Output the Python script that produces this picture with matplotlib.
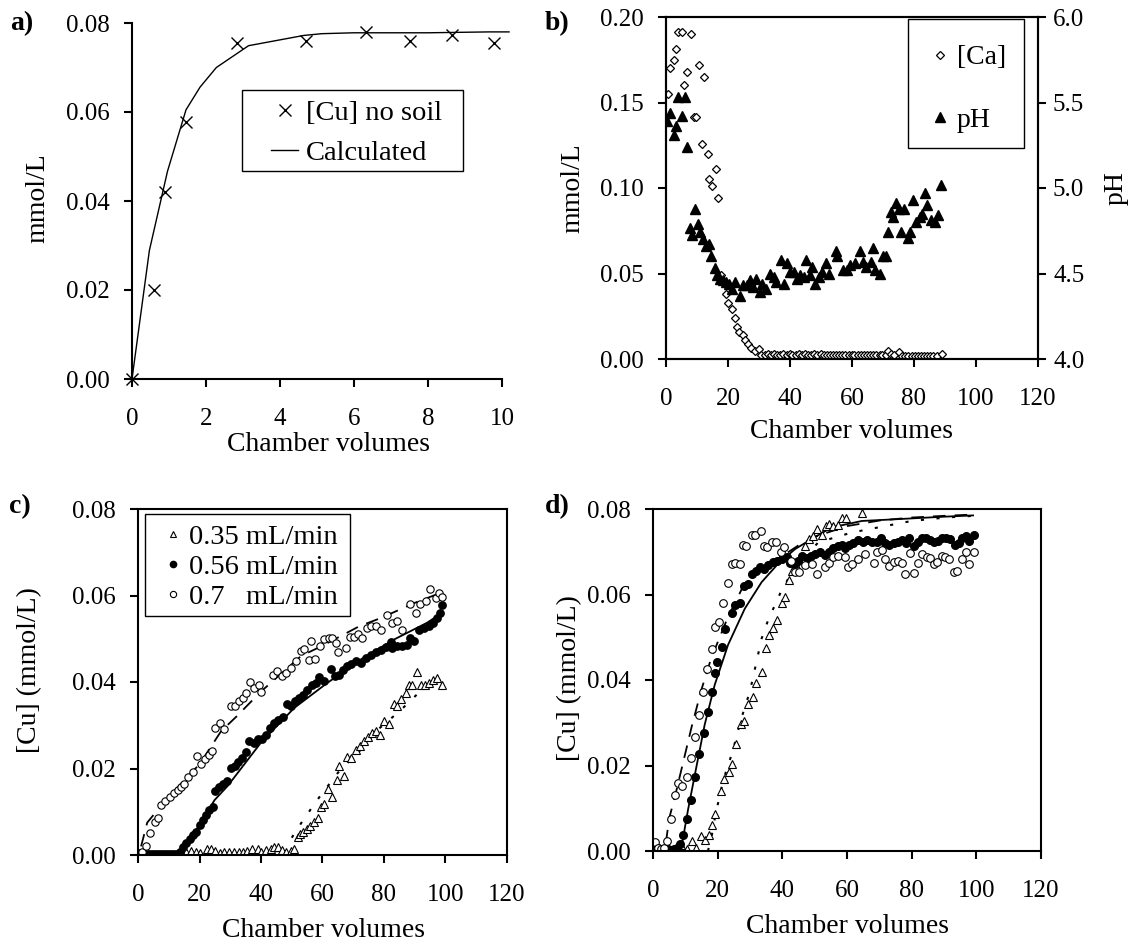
import matplotlib
matplotlib.use("Agg")
import matplotlib.pyplot as plt
from matplotlib.lines import Line2D
from matplotlib.patches import Rectangle
from matplotlib.ticker import FormatStrFormatter

plt.rcParams['font.family'] = ['Liberation Serif', 'DejaVu Serif']
plt.rcParams['font.size'] = 18
plt.rcParams['axes.linewidth'] = 1.5

# ---------------- Panel a ----------------
a_x = [0.0, 0.59, 0.89, 1.47, 2.85, 4.69, 6.33, 7.51, 8.66, 9.78]
a_cu = [0.0, 0.0201, 0.0420, 0.0578, 0.0755, 0.0759, 0.0779, 0.0759, 0.0772, 0.0755]
a_calc_x = [0.0, 0.47, 0.96, 1.46, 1.84, 2.28, 3.15, 4.64, 5.13, 6.0, 8.0, 9.66, 10.19]
a_calc_y = [0.0, 0.0289, 0.0467, 0.0605, 0.0656, 0.0700, 0.0749, 0.0772, 0.0776, 0.0778, 0.0778, 0.0780, 0.0780]

# ---------------- Panel b ----------------
b_ca_x = [0.6, 1.4, 2.6, 3.3, 3.8, 5.1, 5.9, 6.9, 8.0, 9.0, 9.6, 10.6, 12.3, 11.5, 13.4, 14.0,
          14.8, 16.2, 16.9, 17.6, 19.2, 20.1, 21.2, 22.1, 22.8, 23.7, 24.7, 25.5, 26.6, 27.5,
          28.6, 30.1, 30.8, 31.8, 32.9, 33.8, 34.9, 35.8, 36.9, 37.8, 38.9, 39.9, 40.8, 41.9,
          42.8, 43.9, 44.9, 45.8, 46.9, 47.9, 48.8, 49.9, 50.9, 51.8, 52.9, 53.9, 54.8, 55.9,
          56.9, 57.8, 58.9, 59.9, 60.8, 61.9, 62.9, 63.8, 64.9, 65.9, 66.8, 67.9, 68.9, 69.8,
          70.9, 71.7, 72.6, 73.6, 75.2, 76.2, 77.2, 78.2, 79.3, 80.3, 81.2, 82.3, 83.2, 84.3,
          85.3, 86.2, 87.3, 89.1]
b_ca = [0.155, 0.170, 0.175, 0.181, 0.191, 0.191, 0.160, 0.168, 0.190, 0.1415, 0.1415, 0.172,
        0.165, 0.126, 0.120, 0.105, 0.101, 0.111, 0.094, 0.049, 0.038, 0.0326, 0.029, 0.0237,
        0.019, 0.016, 0.0138, 0.0109, 0.0085, 0.0065, 0.0045, 0.0057, 0.0026, 0.0026, 0.0028,
        0.0024, 0.0030, 0.0026, 0.0025, 0.0028, 0.0026, 0.0030, 0.0026, 0.0025, 0.0027, 0.0026,
        0.0028, 0.0025, 0.0026, 0.0028, 0.0025, 0.0027, 0.0026, 0.0026, 0.0024, 0.0022, 0.0023,
        0.0022, 0.0024, 0.0022, 0.0023, 0.0022, 0.0024, 0.0022, 0.0023, 0.0022, 0.0023, 0.0022,
        0.0024, 0.0022, 0.0023, 0.0022, 0.0024, 0.0045, 0.0030, 0.0022, 0.0042, 0.0018, 0.0016,
        0.0017, 0.0020, 0.0016, 0.0017, 0.0016, 0.0018, 0.0016, 0.0017, 0.0016, 0.0018, 0.0032]
b_ph_x = [0.4, 1.4, 2.6, 3.3, 3.9, 5.1, 6.0, 6.7, 7.9, 8.3, 9.3, 10.3, 11.0, 12.0, 13.0, 13.8,
          14.6, 15.7, 16.6, 17.4, 18.4, 19.2, 20.3, 21.3, 22.3, 23.9, 24.7, 26.0, 27.1, 28.0,
          29.0, 30.2, 31.1, 32.3, 33.4, 34.8, 35.4, 37.0, 38.1, 39.0, 39.9, 41.2, 42.3, 43.2,
          44.5, 45.2, 46.4, 47.1, 48.0, 49.3, 50.4, 51.5, 52.6, 54.7, 55.3, 57.2, 58.3, 59.4,
          60.9, 62.5, 63.6, 64.5, 66.1, 66.9, 67.5, 69.0, 69.9, 70.9, 71.5, 72.6, 73.1, 74.2,
          75.1, 75.8, 76.9, 78.0, 78.8, 79.8, 80.7, 81.8, 82.7, 83.4, 84.3, 85.6, 86.7, 87.8, 88.7]
b_ph = [5.39, 5.44, 5.31, 5.36, 5.53, 5.42, 5.53, 5.24, 4.765, 4.725, 4.875, 4.79, 4.745, 4.70,
        4.66, 4.675, 4.60, 4.53, 4.49, 4.47, 4.46, 4.45, 4.44, 4.41, 4.45, 4.37, 4.43, 4.43,
        4.46, 4.42, 4.47, 4.39, 4.44, 4.41, 4.50, 4.48, 4.45, 4.58, 4.44, 4.56, 4.51, 4.51,
        4.47, 4.49, 4.48, 4.58, 4.49, 4.54, 4.44, 4.48, 4.51, 4.56, 4.50, 4.63, 4.60, 4.52,
        4.52, 4.55, 4.56, 4.63, 4.57, 4.54, 4.57, 4.65, 4.52, 4.50, 4.60, 4.60, 4.745, 4.86,
        4.83, 4.91, 4.875, 4.745, 4.875, 4.71, 4.745, 4.93, 4.80, 4.83, 4.85, 4.97, 4.90,
        4.81, 4.80, 4.84, 5.02]

# ---------------- Panel c ----------------
c35_x = [14.1, 15.6, 17.2, 18.7, 20.0, 22.5, 23.9, 25.2, 26.6, 28.1, 29.7, 31.3, 32.9, 34.0,
         35.6, 37.1, 38.9, 40.0, 41.6, 43.2, 44.3, 45.4, 46.7, 48.1, 49.7, 50.8, 51.9, 52.8,
         53.8, 54.9, 56.0, 57.1, 58.4, 59.5, 60.5, 61.8, 63.2, 64.6, 65.4, 67.0, 68.1, 69.4,
         70.8, 72.2, 73.5, 74.8, 76.2, 77.3, 78.7, 80.0, 81.6, 83.2, 84.3, 85.6, 87.0, 88.1,
         89.2, 90.6, 91.9, 93.3, 94.6, 96.0, 97.3, 98.9]
c35 = [0.0008, 0.0008, 0.0010, 0.0008, 0.0004, 0.0013, 0.0013, 0.0010, 0.0004, 0.0008, 0.0008,
       0.0008, 0.0006, 0.0006, 0.0010, 0.0015, 0.0013, 0.0006, 0.0012, 0.0015, 0.0019, 0.0018,
       0.0012, 0.0006, 0.0009, 0.0015, 0.0041, 0.0048, 0.0054, 0.0059, 0.0068, 0.0077, 0.0085,
       0.0112, 0.0117, 0.0152, 0.0134, 0.0174, 0.0205, 0.0183, 0.0226, 0.0224, 0.0242, 0.0251,
       0.0263, 0.0273, 0.0282, 0.0286, 0.0278, 0.0309, 0.0303, 0.0350, 0.0345, 0.0361, 0.0375,
       0.0394, 0.0392, 0.0422, 0.0392, 0.0392, 0.0398, 0.0405, 0.0409, 0.0394]
c56_x = [0.5, 1.5, 2.5, 3.5, 4.5, 5.5, 6.5, 7.5, 8.5, 9.5, 10.5, 11.5, 12.5, 13.5, 14.6, 15.7,
         16.8, 17.8, 18.9, 20.0, 21.1, 22.2, 23.2, 24.3, 25.1, 26.2, 27.6, 28.9, 30.1, 31.4,
         32.4, 33.7, 35.1, 36.2, 37.6, 38.9, 40.3, 41.6, 42.9, 44.3, 45.6, 47.0, 48.6, 49.7,
         51.1, 52.4, 53.8, 55.1, 56.5, 57.8, 58.9, 60.5, 62.7, 64.0, 65.4, 66.8, 68.1, 69.4,
         70.8, 72.4, 74.1, 75.7, 77.3, 78.9, 80.5, 82.2, 82.7, 84.3, 86.0, 87.6, 88.6, 89.9,
         91.4, 93.0, 94.6, 96.0, 97.3, 98.2, 98.9]
c56 = [0.0003, 0.0002, 0.0002, 0.0002, 0.0002, 0.0002, 0.0002, 0.0002, 0.0002, 0.0002, 0.0002,
       0.0002, 0.0003, 0.0008, 0.0018, 0.0027, 0.0036, 0.0046, 0.0054, 0.0070, 0.0081, 0.0093,
       0.0103, 0.0112, 0.0147, 0.0158, 0.0164, 0.0170, 0.0201, 0.0206, 0.0214, 0.0224, 0.0239,
       0.0263, 0.0260, 0.0268, 0.0268, 0.0278, 0.0293, 0.0305, 0.0313, 0.0319, 0.0350, 0.0344,
       0.0355, 0.0363, 0.0371, 0.0382, 0.0392, 0.0398, 0.0412, 0.0402, 0.0429, 0.0415, 0.0417,
       0.0428, 0.0436, 0.0442, 0.0448, 0.0443, 0.0456, 0.0463, 0.0469, 0.0475, 0.0481, 0.0492,
       0.0479, 0.0484, 0.0484, 0.0486, 0.0502, 0.0494, 0.0521, 0.0525, 0.0530, 0.0537, 0.0548,
       0.0560, 0.0577]
c70_x = [0.4, 1.3, 2.7, 3.8, 5.4, 6.5, 7.6, 8.9, 10.3, 11.7, 13.0, 14.1, 15.1, 16.2, 18.0,
         19.2, 20.5, 21.8, 23.0, 24.0, 25.1, 26.8, 28.1, 30.3, 31.6, 33.0, 34.1, 35.1, 36.5,
         37.8, 39.2, 40.0, 43.8, 45.1, 46.7, 48.1, 49.7, 51.4, 53.0, 54.1, 55.7, 56.2, 57.5,
         59.2, 60.5, 62.2, 63.2, 64.3, 65.1, 67.6, 69.0, 70.2, 71.5, 73.0, 74.4, 75.7, 77.3,
         78.9, 81.1, 82.7, 84.3, 86.0, 88.6, 90.3, 91.7, 93.5, 95.1, 96.8, 97.8, 98.9]
c70 = [0.0004, 0.0006, 0.0021, 0.0052, 0.0077, 0.0086, 0.0116, 0.0126, 0.0135, 0.0143, 0.0151,
       0.0157, 0.0164, 0.0180, 0.0193, 0.0228, 0.0211, 0.0222, 0.0232, 0.0241, 0.0293, 0.0305,
       0.0291, 0.0344, 0.0344, 0.0355, 0.0363, 0.0375, 0.0399, 0.0386, 0.0394, 0.0378, 0.0417,
       0.0426, 0.0413, 0.0421, 0.0432, 0.0448, 0.0471, 0.0476, 0.0452, 0.0494, 0.0453, 0.0483,
       0.0500, 0.0502, 0.0502, 0.0490, 0.0469, 0.0479, 0.0504, 0.0504, 0.0510, 0.0502, 0.0525,
       0.0530, 0.0529, 0.0521, 0.0556, 0.0537, 0.0541, 0.0521, 0.0581, 0.0560, 0.0581, 0.0587,
       0.0615, 0.0595, 0.0606, 0.0597]
c35_model_x = [50.0, 53.0, 56.0, 59.0, 65.0, 72.0, 78.0, 85.0, 92.0, 98.4]
c35_model = [0.0040, 0.0073, 0.0104, 0.0134, 0.0190, 0.0240, 0.0290, 0.0332, 0.0380, 0.0405]
c56_model_x = [0.0, 13.0, 14.0, 18.4, 24.9, 29.2, 40.0, 50.8, 61.6, 72.4, 83.2, 94.0, 98.9]
c56_model = [0.0, 0.0, 0.0005, 0.0052, 0.0127, 0.0160, 0.0260, 0.0340, 0.0398, 0.0452, 0.0498, 0.0537, 0.0560]
c70_model_x = [1.0, 3.0, 10.0, 20.0, 27.0, 32.0, 40.0, 53.0, 60.0, 72.0, 79.0, 90.0, 98.0]
c70_model = [0.0020, 0.0075, 0.0135, 0.0210, 0.0286, 0.0320, 0.0378, 0.0460, 0.0484, 0.0529, 0.0548, 0.0583, 0.0605]

# ---------------- Panel d ----------------
d35_x = [1.0, 3.0, 5.0, 7.0, 8.8, 10.5, 12.1, 13.4, 14.8, 16.0, 17.4, 18.4, 19.3, 21.0, 22.0,
         23.5, 24.5, 25.6, 27.2, 28.2, 29.4, 30.8, 32.0, 33.6, 34.8, 35.9, 37.2, 38.4, 39.8,
         40.8, 42.0, 42.9, 44.4, 46.0, 47.0, 48.3, 49.6, 50.8, 52.2, 53.4, 54.4, 55.8, 57.1,
         58.4, 59.6, 64.6]
d35 = [0.0005, 0.0003, 0.0002, 0.0006, 0.0014, 0.0004, 0.0024, 0.0006, 0.0035, 0.0026, 0.0037,
       0.0060, 0.0086, 0.0140, 0.0169, 0.0184, 0.0203, 0.0250, 0.0296, 0.0304, 0.0345, 0.0360,
       0.0393, 0.0418, 0.0476, 0.0505, 0.0521, 0.0540, 0.0579, 0.0594, 0.0633, 0.0656, 0.0664,
       0.0682, 0.0714, 0.0730, 0.0737, 0.0754, 0.0739, 0.0761, 0.0764, 0.0761, 0.0762, 0.0778,
       0.0780, 0.0791]
d56_x = [0.5, 1.5, 2.5, 3.5, 4.5, 5.5, 6.5, 7.5, 8.4, 9.3, 10.6, 11.9, 13.1, 14.2, 15.8, 17.0,
         18.1, 19.1, 19.9, 21.2, 22.4, 24.3, 25.5, 26.9, 28.2, 29.4, 30.5, 32.0, 33.1, 34.3,
         35.6, 37.2, 38.5, 39.8, 41.3, 42.4, 43.9, 44.9, 46.2, 47.5, 48.8, 50.2, 51.7, 53.2,
         54.4, 55.8, 57.1, 58.4, 59.4, 60.6, 62.0, 63.5, 64.8, 66.1, 67.7, 69.2, 70.6, 71.8,
         73.0, 74.4, 75.7, 77.0, 78.2, 79.3, 80.6, 81.9, 83.2, 84.4, 85.7, 86.8, 88.1, 89.4,
         90.6, 91.9, 93.3, 94.5, 95.6, 96.8, 97.8, 99.2]
d56 = [0.0012, 0.0006, 0.0004, 0.0003, 0.0004, 0.0003, 0.0005, 0.0008, 0.0016, 0.0037, 0.0074,
       0.0120, 0.0173, 0.0227, 0.0275, 0.0326, 0.0372, 0.0416, 0.0442, 0.0478, 0.0519, 0.0556,
       0.0575, 0.0581, 0.0619, 0.0625, 0.0648, 0.0656, 0.0664, 0.0660, 0.0668, 0.0675, 0.0679,
       0.0682, 0.0687, 0.0674, 0.0672, 0.0679, 0.0691, 0.0685, 0.0691, 0.0695, 0.0699, 0.0692,
       0.0700, 0.0708, 0.0713, 0.0716, 0.0708, 0.0716, 0.0720, 0.0728, 0.0722, 0.0728, 0.0723,
       0.0722, 0.0731, 0.0720, 0.0716, 0.0720, 0.0723, 0.0728, 0.0720, 0.0733, 0.0714, 0.0723,
       0.0733, 0.0733, 0.0728, 0.0723, 0.0726, 0.0733, 0.0733, 0.0730, 0.0716, 0.0720, 0.0733,
       0.0737, 0.0726, 0.0739]
d70_x = [0.5, 1.5, 2.5, 3.4, 4.4, 5.5, 6.7, 7.7, 9.0, 10.6, 11.7, 13.1, 14.2, 15.5, 16.8, 18.1,
         19.1, 20.4, 21.7, 23.2, 24.5, 25.5, 26.9, 27.9, 28.9, 30.7, 31.7, 33.4, 34.3, 35.4,
         36.7, 37.9, 39.6, 40.6, 42.7, 43.9, 45.1, 47.0, 49.1, 50.6, 53.2, 54.4, 55.8, 57.3,
         59.4, 60.4, 61.7, 63.3, 65.6, 68.2, 69.2, 70.8, 71.6, 73.1, 74.4, 75.7, 77.0, 78.0,
         79.5, 80.6, 81.9, 83.2, 84.7, 85.7, 86.8, 87.8, 89.4, 90.4, 91.4, 93.0, 94.0, 95.6,
         96.8, 97.8, 99.2]
d70 = [0.0022, 0.0008, 0.0005, 0.0006, 0.0024, 0.0076, 0.0130, 0.0159, 0.0153, 0.0173, 0.0217,
       0.0267, 0.0318, 0.0372, 0.0426, 0.0473, 0.0525, 0.0535, 0.0580, 0.0627, 0.0672, 0.0674,
       0.0672, 0.0716, 0.0713, 0.0739, 0.0739, 0.0749, 0.0713, 0.0710, 0.0723, 0.0723, 0.0699,
       0.0710, 0.0679, 0.0652, 0.0652, 0.0668, 0.0672, 0.0648, 0.0664, 0.0674, 0.0687, 0.0691,
       0.0687, 0.0664, 0.0672, 0.0682, 0.0695, 0.0674, 0.0699, 0.0705, 0.0682, 0.0666, 0.0677,
       0.0679, 0.0674, 0.0648, 0.0697, 0.0651, 0.0674, 0.0695, 0.0687, 0.0685, 0.0672, 0.0677,
       0.0691, 0.0687, 0.0683, 0.0652, 0.0655, 0.0683, 0.0700, 0.0672, 0.0699]
d35_model_x = [17.0, 18.1, 19.3, 21.7, 24.5, 27.4, 30.0, 33.6, 35.6, 39.3, 42.9, 51.1, 61.5, 69.7, 80.0, 90.4, 99.2]
d35_model = [0.0, 0.0033, 0.0084, 0.0165, 0.0230, 0.0312, 0.0374, 0.0497, 0.0540, 0.0602, 0.0652, 0.0722, 0.0745, 0.0757, 0.0772, 0.0780, 0.0784]
d56_model_x = [0.0, 8.6, 10.8, 13.4, 16.0, 19.1, 23.2, 28.4, 33.6, 38.7, 43.9, 49.1, 55.3, 64.6, 75.0, 90.0, 99.0]
d56_model = [0.0, 0.0, 0.0095, 0.0196, 0.0296, 0.0389, 0.0482, 0.0567, 0.0629, 0.0672, 0.0706, 0.0730, 0.0757, 0.0772, 0.0776, 0.0782, 0.0785]
d70_model_x = [4.0, 5.0, 7.0, 12.0, 15.0, 18.0, 23.0, 28.0, 34.0, 40.0, 45.0, 50.0, 60.0, 70.0, 80.0, 90.0, 99.0]
d70_model = [0.0020, 0.0076, 0.0134, 0.0292, 0.0378, 0.0451, 0.0544, 0.0621, 0.0660, 0.0690, 0.0715, 0.0735, 0.0760, 0.0773, 0.0780, 0.0784, 0.0787]

c_labels = ['0.35 mL/min', '0.56 mL/min', '0.7   mL/min']

# ---------------- Figure ----------------
W, H = 1132, 950
fig = plt.figure(figsize=(W / 100, H / 100), dpi=100)

def box(l, r, b, t):
    return [l / W, 1 - b / H, (r - l) / W, (b - t) / H]

ax_a = fig.add_axes(box(132, 502, 379, 23))
ax_b = fig.add_axes(box(666, 1038, 359, 17))
ax_c = fig.add_axes(box(138, 507, 855, 509))
ax_d = fig.add_axes(box(653, 1041, 851, 509))

LBL = 20
LEG = 20.5


def style_ticks(ax, right=False):
    ax.tick_params(axis='x', direction='out', length=5.8, width=1.5, labelsize=18, pad=15)
    ax.tick_params(axis='y', direction='out', length=5.8, width=1.5, labelsize=18,
                   pad=5 if right else 10)


def set_labels(ax, xl, yl, xpos, ypos):
    ax.set_xlabel(xl, fontsize=LBL)
    ax.set_ylabel(yl, fontsize=LBL)
    ax.xaxis.set_label_coords(*xpos)
    ax.yaxis.set_label_coords(*ypos)
    ax.xaxis.label.set_va('center')
    ax.xaxis.label.set_ha('center')
    ax.yaxis.label.set_va('center')
    ax.yaxis.label.set_ha('center')


def legend_box(ax, x0, y0, w, h):
    ax.add_patch(Rectangle((x0, y0), w, h, transform=ax.transAxes, facecolor='white',
                           edgecolor='black', lw=1.0, zorder=5, clip_on=False))


# Panel a
ax_a.plot(a_calc_x, a_calc_y, color='black', lw=1.0, clip_on=False)
ax_a.plot(a_x, a_cu, ls='none', marker='x', ms=8, mew=1.0, color='black', clip_on=False)
ax_a.set_xlim(0, 10)
ax_a.set_ylim(0, 0.08)
ax_a.set_xticks([0, 2, 4, 6, 8, 10])
ax_a.set_yticks([0, 0.02, 0.04, 0.06, 0.08])
ax_a.yaxis.set_major_formatter(FormatStrFormatter('%.2f'))
ax_a.spines['top'].set_visible(False)
ax_a.spines['right'].set_visible(False)
style_ticks(ax_a)
set_labels(ax_a, 'Chamber volumes', 'mmol/L', (0.532, -0.185), (-0.254, 0.508))
legend_box(ax_a, 0.297, 0.583, 0.597, 0.2275)
h_a = [Line2D([], [], ls='none', marker='x', ms=8, mew=1.0, color='black'),
       Line2D([], [], color='black', lw=1.0)]
leg_a = ax_a.legend(h_a, ['[Cu] no soil', 'Calculated'], loc='upper left',
                    bbox_to_anchor=(0.376, 0.784), frameon=False, fontsize=LEG,
                    handlelength=0.95, handletextpad=0.28, borderpad=0, labelspacing=0.49,
                    borderaxespad=0)
leg_a.set_zorder(6)

# Panel b
ax_b.plot(b_ca_x, b_ca, ls='none', marker='D', ms=4.2, mfc='white', mec='black', mew=0.9,
          zorder=3)
ax_b.set_xlim(0, 120)
ax_b.set_ylim(0, 0.20)
ax_b.set_xticks([0, 20, 40, 60, 80, 100, 120])
ax_b.set_yticks([0, 0.05, 0.10, 0.15, 0.20])
ax_b.yaxis.set_major_formatter(FormatStrFormatter('%.2f'))
style_ticks(ax_b)
set_labels(ax_b, 'Chamber volumes', 'mmol/L', (0.5, -0.213), (-0.25, 0.5))
ax_b2 = ax_b.twinx()
ax_b2.plot(b_ph_x, b_ph, ls='none', marker='^', ms=7, color='black')
ax_b2.set_ylim(4.0, 6.0)
ax_b2.set_yticks([4.0, 4.5, 5.0, 5.5, 6.0])
ax_b2.yaxis.set_major_formatter(FormatStrFormatter('%.1f'))
style_ticks(ax_b2, right=True)
ax_b2.set_ylabel('pH', fontsize=LBL, rotation=90)
ax_b2.yaxis.set_label_coords(1.21, 0.5)
ax_b2.yaxis.label.set_va('center')
ax_b2.yaxis.label.set_ha('center')
legend_box(ax_b2, 0.651, 0.617, 0.312, 0.377)
h_b = [Line2D([], [], ls='none', marker='D', ms=4.2, mfc='white', mec='black', mew=0.9),
       Line2D([], [], ls='none', marker='^', ms=7, color='black')]
leg_b = ax_b2.legend(h_b, ['[Ca]', 'pH'], loc='upper left', bbox_to_anchor=(0.699, 0.918),
                     frameon=False, fontsize=20, handlelength=1.0, handletextpad=0.11,
                     borderpad=0, labelspacing=1.33, borderaxespad=0)
leg_b.set_zorder(6)

# Panel c
ax_c.plot(c56_model_x, c56_model, color='black', lw=1.3)
ax_c.plot(c70_model_x, c70_model, color='black', lw=1.3, dashes=(7, 5))
ax_c.plot(c35_model_x, c35_model, color='black', lw=1.5, dashes=(1.5, 6))
ax_c.plot(c35_x, c35, ls='none', marker='^', ms=5.5, mfc='white', mec='black', mew=0.8)
ax_c.plot(c56_x, c56, ls='none', marker='o', ms=5.3, color='black')
ax_c.plot(c70_x, c70, ls='none', marker='o', ms=5.3, mfc='white', mec='black', mew=0.8)
ax_c.set_xlim(0, 120)
ax_c.set_ylim(0, 0.08)
ax_c.set_xticks([0, 20, 40, 60, 80, 100, 120])
ax_c.set_yticks([0, 0.02, 0.04, 0.06, 0.08])
ax_c.yaxis.set_major_formatter(FormatStrFormatter('%.2f'))
style_ticks(ax_c)
set_labels(ax_c, 'Chamber volumes', '[Cu] (mmol/L)', (0.503, -0.217), (-0.293, 0.535))
legend_box(ax_c, 0.019, 0.691, 0.556, 0.295)
h_c = [Line2D([], [], ls='none', marker='^', ms=4.5, mfc='white', mec='black', mew=0.8),
       Line2D([], [], ls='none', marker='o', ms=4.5, color='black'),
       Line2D([], [], ls='none', marker='o', ms=4.5, mfc='white', mec='black', mew=0.8)]
leg_c = ax_c.legend(h_c, c_labels, loc='upper left', bbox_to_anchor=(0.057, 0.957),
                    frameon=False, fontsize=LEG, handlelength=1.0, handletextpad=0.05,
                    borderpad=0, labelspacing=0.14, borderaxespad=0)
leg_c.set_zorder(6)

# Panel d
ax_d.plot(d56_model_x, d56_model, color='black', lw=1.3)
ax_d.plot(d70_model_x, d70_model, color='black', lw=1.3, dashes=(7, 5))
ax_d.plot(d35_model_x, d35_model, color='black', lw=1.5, dashes=(1.5, 6))
ax_d.plot(d35_x, d35, ls='none', marker='^', ms=6, mfc='white', mec='black', mew=0.8)
ax_d.plot(d56_x, d56, ls='none', marker='o', ms=5.5, color='black')
ax_d.plot(d70_x, d70, ls='none', marker='o', ms=5.5, mfc='white', mec='black', mew=0.8)
ax_d.set_xlim(0, 120)
ax_d.set_ylim(0, 0.08)
ax_d.set_xticks([0, 20, 40, 60, 80, 100, 120])
ax_d.set_yticks([0, 0.02, 0.04, 0.06, 0.08])
ax_d.yaxis.set_major_formatter(FormatStrFormatter('%.2f'))
style_ticks(ax_d)
set_labels(ax_d, 'Chamber volumes', '[Cu] (mmol/L)', (0.5, -0.222), (-0.216, 0.506))

# panel letters
for txt, x, y in [('a)', 10, 24), ('b)', 545, 24), ('c)', 9, 507), ('d)', 545, 507)]:
    fig.text(x / W, 1 - y / H, txt, fontsize=20, fontweight='bold', va='center', ha='left')

fig.savefig('out.png', dpi=100, facecolor='white')
